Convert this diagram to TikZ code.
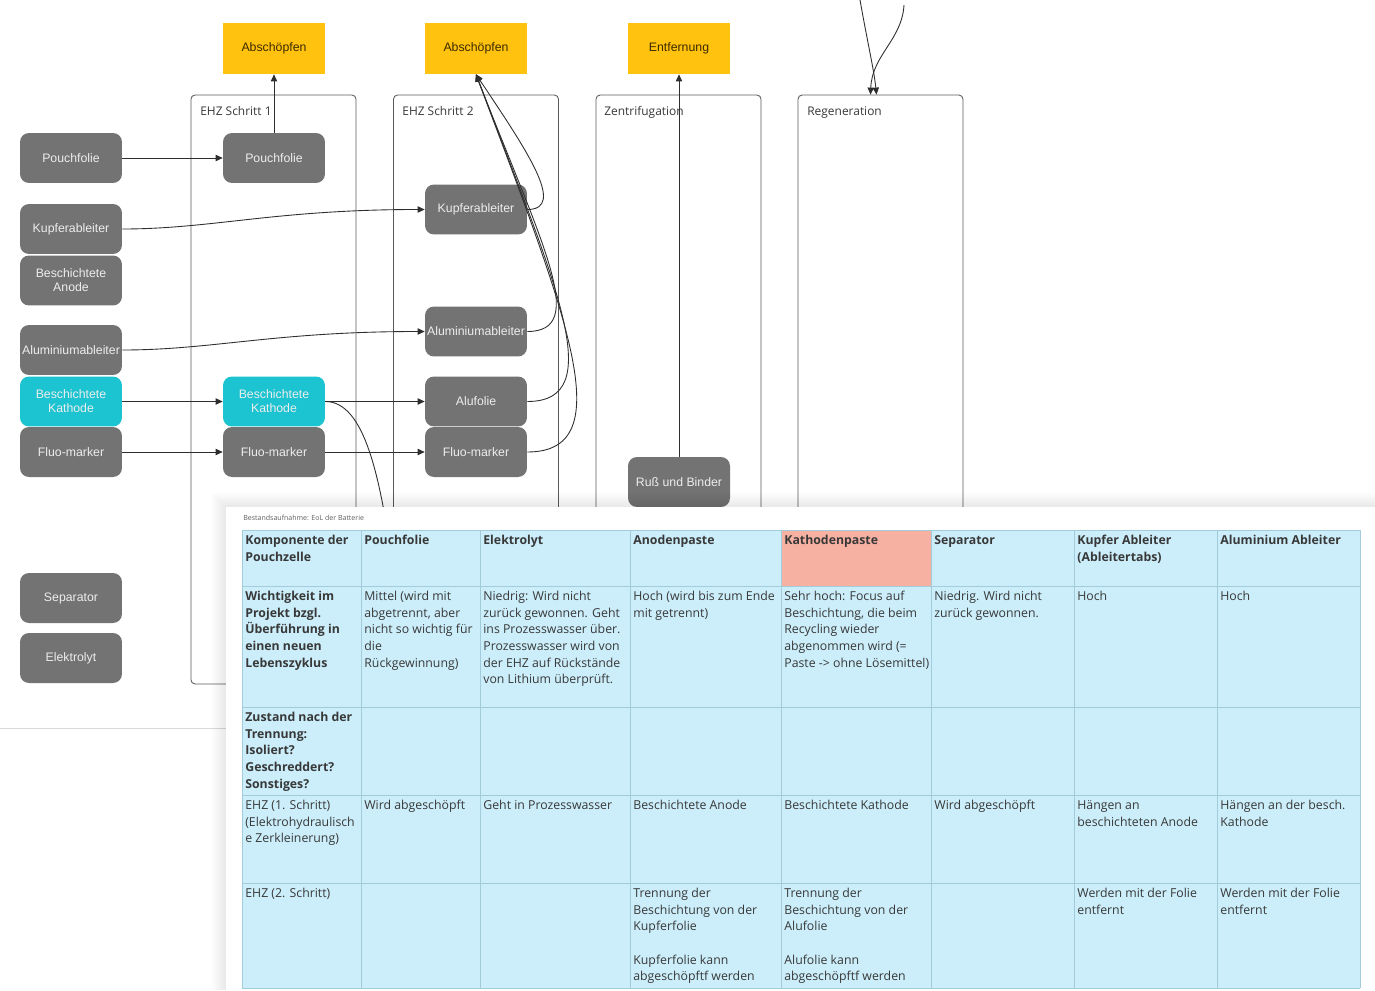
\documentclass[tikz,border=0pt]{standalone}
\usepackage{fontspec}
\setmainfont{Open Sans}
\newfontfamily\boxfamily{Liberation Sans}
\usepackage{tikz}
\usetikzlibrary{positioning}
\usetikzlibrary{arrows.meta}
\usetikzlibrary{calc}
\definecolor{partColor}{HTML}{737373}
\definecolor{partText}{HTML}{EDEDED}
\definecolor{kathodeColor}{HTML}{1CC3D0}
\definecolor{targetColor}{HTML}{FFC20E}
\definecolor{targetText}{HTML}{3B2A00}
\definecolor{frameColor}{HTML}{5A5A5A}
\definecolor{lineColor}{HTML}{2E2E2E}
\definecolor{textColor}{HTML}{383838}
\definecolor{tableColor}{HTML}{CBEEFA}
\definecolor{gridColor}{HTML}{A3CCDA}
\definecolor{pasteColor}{HTML}{F7B1A3}
\newcommand{\cellTop}{\rule{0pt}{7.5pt}}
\tikzset{
  part/.style={rectangle, rounded corners=0.18cm, fill=partColor, text=partText,
    minimum width=2.04cm, minimum height=1cm, inner sep=1pt, align=center,
    font=\boxfamily\fontsize{7}{8}\selectfont},
  kathode/.style={part, fill=kathodeColor},
  target/.style={rectangle, fill=targetColor, text=targetText, minimum width=2.04cm,
    minimum height=1.02cm, font=\boxfamily\fontsize{7}{8}\selectfont},
  stage/.style={draw=frameColor, fill=white, rounded corners=0.08cm, line width=0.5pt,
    minimum width=3.3cm, minimum height=11.78cm, inner sep=0pt},
  stageLabel/.style={anchor=base west, inner sep=0pt, text=textColor, font=\fontsize{6.8}{8}\selectfont},
  flow/.style={-{Triangle[length=4pt,width=3.6pt]}, draw=lineColor, line width=0.5pt},
  cell/.style={anchor=north west, inner sep=0pt, align=left, text=textColor,
    font=\fontsize{7}{9.5}\selectfont},
  headCell/.style={cell, font=\fontsize{7}{9.5}\selectfont\bfseries},
}
\begin{document}
\begin{tikzpicture}[x=0.02cm, y=-0.02cm]
\useasboundingbox (0,0) rectangle (1375,990);

\node[stage] (ehz1) at (273.5,389.5) {};
\node[stage] (ehz2) at (476,389.5) {};
\node[stage] (zentr) at (678.5,389.5) {};
\node[stage] (regen) at (880.5,389.5) {};
\node[stageLabel] (ehz1Text) at (200,115) {EHZ Schritt 1};
\node[stageLabel] (ehz2Text) at (402,115) {EHZ Schritt 2};
\node[stageLabel] (zentrText) at (604,115) {Zentrifugation};
\node[stageLabel] (regenText) at (807,115) {Regeneration};

\node[target] (absch1) at (274,48.5) {Abschöpfen};
\node[target] (absch2) at (476,48.5) {Abschöpfen};
\node[target] (entf) at (679,48.5) {Entfernung};

\node[part] (pouchL) at (71,158) {Pouchfolie};
\node[part] (kupL) at (71,229) {Kupferableiter};
\node[part] (anodeL) at (71,280.5) {Beschichtete\\Anode};
\node[part] (aluL) at (71,350) {Aluminiumableiter};
\node[kathode] (kathL) at (71,401.5) {Beschichtete\\Kathode};
\node[part] (fluoL) at (71,452) {Fluo-marker};
\node[part] (sepL) at (71,598) {Separator};
\node[part] (elekL) at (71,658) {Elektrolyt};

\node[part] (pouch1) at (274,158) {Pouchfolie};
\node[kathode] (kath1) at (274,401.5) {Beschichtete\\Kathode};
\node[part] (fluo1) at (274,452) {Fluo-marker};

\node[part] (kup2) at (476,209.5) {Kupferableiter};
\node[part] (alu2) at (476,331.5) {Aluminiumableiter};
\node[part] (alufolie2) at (476,401.5) {Alufolie};
\node[part] (fluo2) at (476,452) {Fluo-marker};

\node[part] (russ) at (679,482) {Ruß und Binder};

\draw[flow] (pouchL) -- (pouch1);
\draw[flow] (pouch1) -- (absch1);
\draw[flow] (kupL.east) .. controls +(90,0) and +(-150,0) .. (kup2.west);
\draw[flow] (aluL.east) .. controls +(90,0) and +(-150,0) .. (alu2.west);
\draw[flow] (kathL) -- (kath1);
\draw[flow] (kath1) -- (alufolie2);
\draw[flow] (fluoL) -- (fluo1);
\draw[flow] (fluo1) -- (fluo2);
\coordinate (kathEnd) at (392,560);
\draw[lineColor, line width=0.5pt] (kath1.east) .. controls +(40,0) and +(-12,-80) .. (kathEnd);
\draw[flow] (kup2.east) .. controls +(40,0) and +(50,75) .. (absch2.south);
\draw[flow] (alu2.east) .. controls +(62,0) and +(66,170) .. (absch2.south);
\draw[flow] (alufolie2.east) .. controls +(82,0) and +(80,210) .. (absch2.south);
\draw[flow] (fluo2.east) .. controls +(95,0) and +(90,240) .. (absch2.south);
\draw[flow] (russ) -- (entf);
\coordinate (regIn1) at (860,0);
\coordinate (regIn2) at (904,5);
\draw[flow] (regIn1) .. controls (868,45) and (874,70) .. ($(regen.north)+(-4,0)$);
\draw[flow] (regIn2) .. controls (902,40) and (872,55) .. ($(regen.north)+(-10,0)$);

% table on top
\draw[black!15] (0,728) -- (226,728);
\foreach \i in {0,...,7}
  \fill[black, opacity=0.012] ({226-2*\i},{507-2*\i}) rectangle (1375,990);
\fill[white] (226,507) rectangle (1375,990);
\node[anchor=west, inner sep=0pt, text=textColor!80, font=\fontsize{4}{5}\selectfont] (tabTitle) at (243,518) {Bestandsaufnahme: EoL der Batterie};
\fill[tableColor] (242,530) rectangle (1360,988);
\fill[pasteColor] (781,530) rectangle (931,586);
\foreach \y in {530,586,707,795,883,988}
  \draw[gridColor, line width=0.5pt] (242,\y) -- (1360,\y);
\foreach \x in {242,361,480,630,781,931,1074,1217,1360}
  \draw[gridColor, line width=0.5pt] (\x,530) -- (\x,988);

\node[headCell] (t00) at (245,530.8) {\cellTop Komponente der\\Pouchzelle};
\node[headCell] (t01) at (364,530.8) {\cellTop Pouchfolie};
\node[headCell] (t02) at (483,530.8) {\cellTop Elektrolyt};
\node[headCell] (t03) at (633,530.8) {\cellTop Anodenpaste};
\node[headCell] (t04) at (784,530.8) {\cellTop Kathodenpaste};
\node[headCell] (t05) at (934,530.8) {\cellTop Separator};
\node[headCell] (t06) at (1077,530.8) {\cellTop Kupfer Ableiter\\(Ableitertabs)};
\node[headCell] (t07) at (1220,530.8) {\cellTop Aluminium Ableiter};

\node[headCell] (t10) at (245,586.8) {\cellTop Wichtigkeit im\\Projekt bzgl.\\Überführung in\\einen neuen\\Lebenszyklus};
\node[cell] (t11) at (364,586.8) {\cellTop Mittel (wird mit\\abgetrennt, aber\\nicht so wichtig für\\die\\Rückgewinnung)};
\node[cell] (t12) at (483,586.8) {\cellTop Niedrig: Wird nicht\\zurück gewonnen. Geht\\ins Prozesswasser über.\\Prozesswasser wird von\\der EHZ auf Rückstände\\von Lithium überprüft.};
\node[cell] (t13) at (633,586.8) {\cellTop Hoch (wird bis zum Ende\\mit getrennt)};
\node[cell] (t14) at (784,586.8) {\cellTop Sehr hoch: Focus auf\\Beschichtung, die beim\\Recycling wieder\\abgenommen wird (=\\Paste -> ohne Lösemittel)};
\node[cell] (t15) at (934,586.8) {\cellTop Niedrig. Wird nicht\\zurück gewonnen.};
\node[cell] (t16) at (1077,586.8) {\cellTop Hoch};
\node[cell] (t17) at (1220,586.8) {\cellTop Hoch};

\node[headCell] (t20) at (245,707.8) {\cellTop Zustand nach der\\Trennung:\\Isoliert?\\Geschreddert?\\Sonstiges?};

\node[cell] (t30) at (245,795.8) {\cellTop EHZ (1. Schritt)\\(Elektrohydraulisch\\e Zerkleinerung)};
\node[cell] (t31) at (364,795.8) {\cellTop Wird abgeschöpft};
\node[cell] (t32) at (483,795.8) {\cellTop Geht in Prozesswasser};
\node[cell] (t33) at (633,795.8) {\cellTop Beschichtete Anode};
\node[cell] (t34) at (784,795.8) {\cellTop Beschichtete Kathode};
\node[cell] (t35) at (934,795.8) {\cellTop Wird abgeschöpft};
\node[cell] (t36) at (1077,795.8) {\cellTop Hängen an\\beschichteten Anode};
\node[cell] (t37) at (1220,795.8) {\cellTop Hängen an der besch.\\Kathode};

\node[cell] (t40) at (245,883.8) {\cellTop EHZ (2. Schritt)};
\node[cell] (t43) at (633,883.8) {\cellTop Trennung der\\Beschichtung von der\\Kupferfolie\\[9.5pt]Kupferfolie kann\\abgeschöpftf werden};
\node[cell] (t44) at (784,883.8) {\cellTop Trennung der\\Beschichtung von der\\Alufolie\\[9.5pt]Alufolie kann\\abgeschöpftf werden};
\node[cell] (t46) at (1077,883.8) {\cellTop Werden mit der Folie\\entfernt};
\node[cell] (t47) at (1220,883.8) {\cellTop Werden mit der Folie\\entfernt};
\end{tikzpicture}
\end{document}
